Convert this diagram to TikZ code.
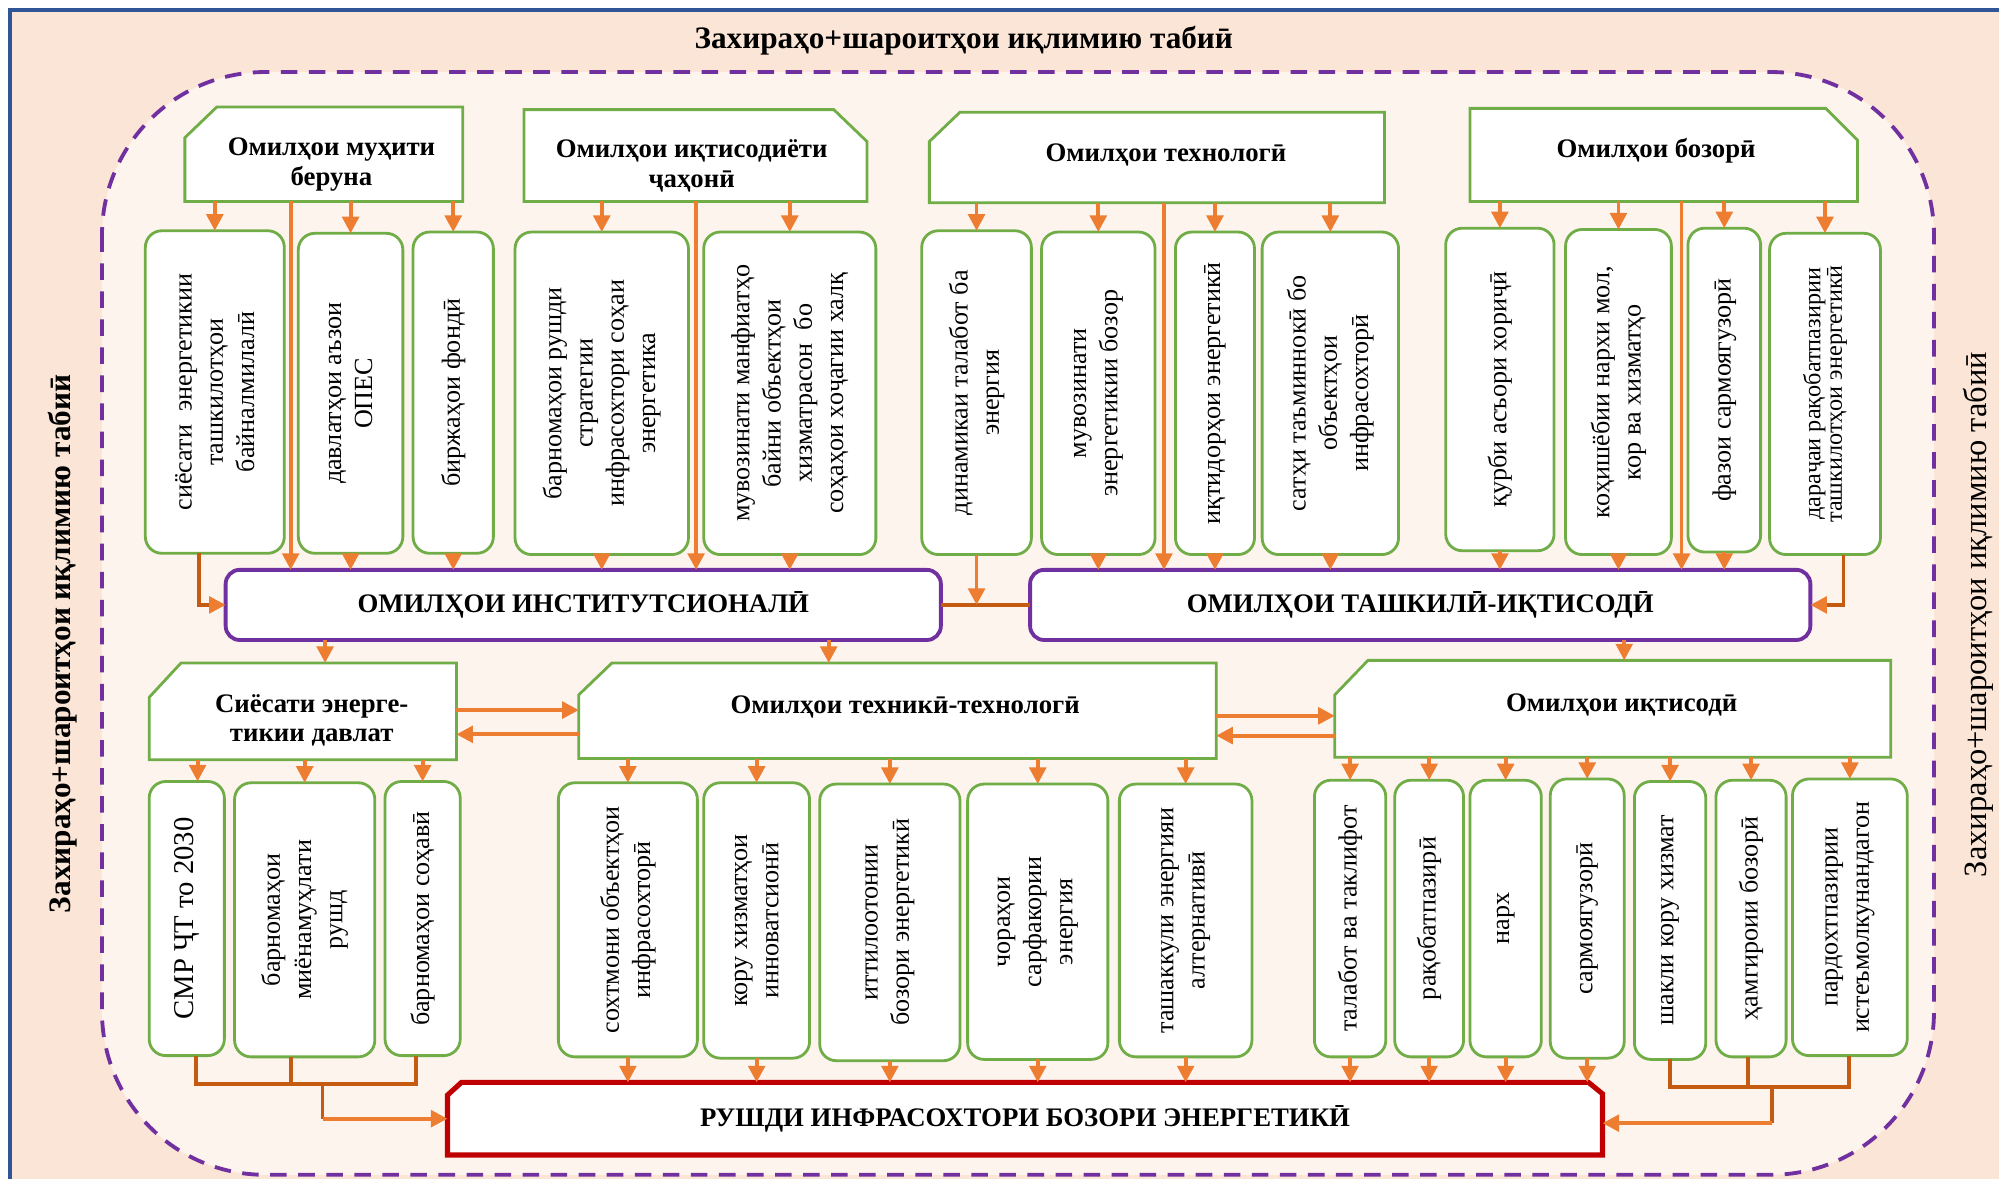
\documentclass[tikz,border=0pt]{standalone}
\usepackage{fontspec}
\setmainfont{Liberation Serif}
\usetikzlibrary{arrows.meta,fit,calc}
\definecolor{orA}{HTML}{ED7D31}
\definecolor{orD}{HTML}{C55A11}
\definecolor{grn}{HTML}{70AD47}
\definecolor{pur}{HTML}{7030A0}
\definecolor{redb}{HTML}{C00000}
\definecolor{blu}{HTML}{2F5597}
\definecolor{pch}{HTML}{FBE5D6}
\definecolor{pchl}{HTML}{FEF4EE}
\tikzset{
  frm/.style={inner sep=0pt, outer sep=0pt},
  vb/.style={frm, draw=grn, line width=2.2pt, fill=white, rounded corners=13pt},
  vt/.style={inner sep=0pt, align=center, rotate=90, font=\fontsize{20.5}{24.5}\selectfont},
  hb/.style={draw=grn, line width=2.2pt, fill=white},
  ht/.style={inner sep=0pt, align=center, font=\fontsize{21}{23}\selectfont\bfseries},
  pb/.style={frm, draw=pur, line width=3pt, fill=white, rounded corners=11pt, font=\fontsize{21}{25}\selectfont\bfseries},
  rb/.style={draw=redb, line width=4pt, fill=white},
  arr/.style={draw=orA, line width=3pt, -{Triangle[length=13pt,width=13pt,color=orA]}},
  dl/.style={draw=orD, line width=3pt},
  darr/.style={draw=orD, line width=3pt, -{Triangle[length=13pt,width=13pt,color=orA]}},
  sidet/.style={inner sep=0pt, rotate=90},
}
\newcommand{\vbx}[6]{\node[vb, fit={(#2,#3) (#4,#5)}] (#1) {};
  \node[vt] (#1t) at (#1.center) {#6};}
\begin{document}
\begin{tikzpicture}[x=1pt,y=-1pt]
\useasboundingbox (0,0) rectangle (1568,924.8);
\fill[white] (0,0) rectangle (1568,924.8);
\fill[pch] (8,8) rectangle (1568,924.8);
\draw[blu, line width=3pt] (8,924.8) -- (8,8) -- (1568,8);
\draw[pur, line width=3pt, dash pattern=on 13pt off 9pt, fill=pchl, rounded corners=128pt] (80,56.5) rectangle (1517,921.5);

% titles
\node[inner sep=0pt, font=\fontsize{24.5}{28}\selectfont\bfseries] (T) at (756,32) {Захираҳо+шароитҳои иқлимию табиӣ};
\node[sidet, font=\fontsize{24.5}{28}\selectfont\bfseries] (LT) at (49,505) {Захираҳо+шароитҳои иқлимию табиӣ};
\node[sidet, font=\fontsize{25.5}{28}\selectfont] (RT) at (1552,482) {Захираҳо+шароитҳои иқлимию табиӣ};

% headers
\node[frm, fit={(145,84) (363,158)}] (H1) {};
\draw[hb] ($(H1.north west)+(0,24)$) -- ($(H1.north west)+(25,0)$) -- (H1.north east) -- (H1.south east) -- (H1.south west) -- cycle;
\node[ht] (H1t) at ($(H1.center)+(6,8)$) {Омилҳои муҳити\\беруна};

\node[frm, fit={(411,86) (680,158)}] (H2) {};
\draw[hb] (H2.north west) -- ($(H2.north east)+(-26,0)$) -- ($(H2.north east)+(0,25)$) -- (H2.south east) -- (H2.south west) -- cycle;
\node[ht] (H2t) at ($(H2.center)+(-3,8)$) {Омилҳои иқтисодиёти\\ҷаҳонӣ};

\node[frm, fit={(729,88) (1086,159)}] (H3) {};
\draw[hb] ($(H3.north west)+(0,23)$) -- ($(H3.north west)+(24,0)$) -- (H3.north east) -- (H3.south east) -- (H3.south west) -- cycle;
\node[ht] (H3t) at ($(H3.center)+(7,-2)$) {Омилҳои технологӣ};

\node[frm, fit={(1153,85) (1457,158)}] (H4) {};
\draw[hb] (H4.north west) -- ($(H4.north east)+(-25,0)$) -- ($(H4.north east)+(0,25)$) -- (H4.south east) -- (H4.south west) -- cycle;
\node[ht] (H4t) at ($(H4.center)+(-6,-3)$) {Омилҳои бозорӣ};

% row 1 boxes
\vbx{B1}{114}{181}{223}{434}{сиёсати~ энергетикии\\ташкилотҳои\\байналмилалӣ}
\vbx{B2}{234}{183}{316}{434}{давлатҳои аъзои\\ОПЕС}
\vbx{B3}{324}{182}{387}{434}{биржаҳои фондӣ}
\vbx{B4}{404}{182}{540}{435}{барномаҳои рушди\\стратегии\\инфрасохтори соҳаи\\энергетика}
\vbx{B5}{552}{182}{687}{435}{мувозинати манфиатҳо\\байни объектҳои\\хизматрасон~ бо\\соҳаҳои хоҷагии халқ}
\vbx{B6}{723}{181}{809}{435}{динамикаи талабот ба\\энергия}
\vbx{B7}{817}{182}{906}{435}{мувозинати\\энергетикии бозор}
\vbx{B8}{922}{182}{984}{435}{иқтидорҳои энергетикӣ}
\vbx{B9}{990}{182}{1097}{435}{сатҳи таъминнокӣ бо\\объектҳои\\инфрасохторӣ}
\vbx{B10}{1134}{179}{1219}{432}{қурби асъори хориҷӣ}
\vbx{B11}{1228}{180}{1311}{435}{коҳишёбии нархи мол,\\кор ва хизматҳо}
\vbx{B12}{1324}{179}{1381}{433}{фазои сармоягузорӣ}
\node[vb, fit={(1388,183) (1475,435)}] (B13) {};
\node[vt, font=\fontsize{19}{17}\selectfont] (B13t) at (B13.center) {дараҷаи рақобатпазирии\\ташкилотҳои энергетикӣ};

% purple boxes
\node[pb, fit={(177,447) (738,502)}] (P1) {};
\node[inner sep=0pt, font=\fontsize{21}{25}\selectfont\bfseries] (P1t) at (P1.center) {ОМИЛҲОИ ИНСТИТУТСИОНАЛӢ};
\node[pb, fit={(808,447) (1420,502)}] (P2) {};
\node[inner sep=0pt, font=\fontsize{21}{25}\selectfont\bfseries] (P2t) at (P2.center) {ОМИЛҲОИ ТАШКИЛӢ-ИҚТИСОДӢ};

% row 2 headers
\node[frm, fit={(117,520) (358,596)}] (S1) {};
\draw[hb] ($(S1.north west)+(0,27)$) -- ($(S1.north west)+(25,0)$) -- (S1.north east) -- (S1.south east) -- (S1.south west) -- cycle;
\node[ht] (S1t) at ($(S1.center)+(7,7)$) {Сиёсати энерге-\\тикии давлат};

\node[frm, fit={(454,520) (954,595)}] (S2) {};
\draw[hb] ($(S2.north west)+(0,25)$) -- ($(S2.north west)+(26,0)$) -- (S2.north east) -- (S2.south east) -- (S2.south west) -- cycle;
\node[ht] (S2t) at ($(S2.center)+(6,-3)$) {Омилҳои техникӣ-технологӣ};

\node[frm, fit={(1047,518) (1483,594)}] (S3) {};
\draw[hb] ($(S3.north west)+(0,27)$) -- ($(S3.north west)+(26,0)$) -- (S3.north east) -- (S3.south east) -- (S3.south west) -- cycle;
\node[ht] (S3t) at ($(S3.center)+(7,-3)$) {Омилҳои иқтисодӣ};

% row 2 boxes
\node[vb, fit={(117,613) (176,828)}] (C1) {};
\node[vt, font=\fontsize{22.5}{26}\selectfont] (C1t) at (C1.center) {СМР ҶТ то 2030};
\vbx{C2}{184}{614}{294}{829}{барномаҳои\\миёнамуҳлати\\рушд}
\vbx{C3}{302}{613}{361}{828}{барномаҳои соҳавӣ}
\vbx{C4}{438}{614}{547}{829}{сохтмони объектҳои\\инфрасохторӣ}
\vbx{C5}{552}{614}{635}{830}{кору хизматҳои\\инноватсионӣ}
\vbx{C6}{643}{615}{753}{832}{иттилоотонии\\бозори энергетикӣ}
\vbx{C7}{759}{615}{869}{831}{чораҳои\\сарфакории\\энергия}
\vbx{C8}{878}{615}{982}{829}{ташаккули энергияи\\алтернативӣ}
\vbx{C9}{1031}{612}{1087}{829}{талабот ва таклифот}
\vbx{C10}{1094}{612}{1148}{829}{рақобатпазирӣ}
\vbx{C11}{1153}{612}{1209}{829}{нарх}
\vbx{C12}{1216}{611}{1274}{830}{сармоягузорӣ}
\vbx{C13}{1282}{613}{1338}{831}{шакли кору хизмат}
\vbx{C14}{1346}{612}{1401}{829}{ҳамгироии бозорӣ}
\vbx{C15}{1406}{611}{1496}{828}{пардохтпазирии\\истеъмолкунандагон}

% red box
\node[frm, fit={(351,849) (1257,906)}] (R) {};
\draw[rb] ($(R.north west)+(0,10)$) -- ($(R.north west)+(11,0)$) -- ($(R.north east)+(-11,0)$) -- ($(R.north east)+(0,9)$) -- (R.south east) -- (R.south west) -- cycle;
\node[inner sep=0pt, font=\fontsize{21}{25}\selectfont\bfseries] (Rt) at (R.center) {РУШДИ ИНФРАСОХТОРИ БОЗОРИ ЭНЕРГЕТИКӢ};

% helper coordinates
\coordinate (lx1) at (228,0);
\coordinate (lx2) at (546,0);
\coordinate (lx3) at (913,0);
\coordinate (lx4) at (1319,0);
\coordinate (ex1) at (156,0);
\coordinate (ex2) at (1446,0);
\coordinate (sx1) at (255,0);
\coordinate (sx2) at (650,0);
\coordinate (sx3) at (1274,0);
\coordinate (ya1) at (0,557);
\coordinate (ya2) at (0,576);
\coordinate (ya3) at (0,561.5);
\coordinate (ya4) at (0,577);
\coordinate (cx1) at (155,0);
\coordinate (bl) at (0,850);
\coordinate (bx1) at (154,0);
\coordinate (bx2) at (228,0);
\coordinate (bx3) at (326,0);
\coordinate (jx1) at (253,0);
\coordinate (br) at (0,852.5);
\coordinate (bx4) at (1310,0);
\coordinate (bx5) at (1371,0);
\coordinate (bx6) at (1450,0);
\coordinate (jx2) at (1390,0);
\coordinate (rr) at (0,881);

% header -> row 1
\foreach \h/\b in {H1/B1,H1/B2,H1/B3,H2/B4,H2/B5,H3/B6,H3/B7,H3/B8,H3/B9,H4/B10,H4/B11,H4/B12,H4/B13}
  \draw[arr] (\h.south -| \b.north) -- (\b.north);
\draw[arr] (H1.south -| lx1) -- (P1.north -| lx1);
\draw[arr] (H2.south -| lx2) -- (P1.north -| lx2);
\draw[arr] (H3.south -| lx3) -- (P2.north -| lx3);
\draw[arr] (H4.south -| lx4) -- (P2.north -| lx4);

% row 1 -> purple
\foreach \b in {B2,B3,B4,B5} \draw[arr] (\b.south) -- (P1.north -| \b.south);
\foreach \b in {B7,B8,B9,B10,B11,B12} \draw[arr] (\b.south) -- (P2.north -| \b.south);
\draw[darr] (B1.south -| ex1) |- (P1.west);
\draw[darr] (B13.south -| ex2) |- (P2.east);
\draw[dl] (P1.east) -- (P2.west);
\draw[arr] (B6.south) -- (B6.south |- P1.east);

% purple -> row 2 headers
\draw[arr] (P1.south -| sx1) -- (S1.north -| sx1);
\draw[arr] (P1.south -| sx2) -- (S2.north -| sx2);
\draw[arr] (P2.south -| sx3) -- (S3.north -| sx3);
\draw[arr] (S1.east |- ya1) -- (S2.west |- ya1);
\draw[arr] (S2.west |- ya2) -- (S1.east |- ya2);
\draw[arr] (S2.east |- ya3) -- (S3.west |- ya3);
\draw[arr] (S3.west |- ya4) -- (S2.east |- ya4);

% row 2 headers -> boxes
\draw[arr] (S1.south -| cx1) -- (C1.north -| cx1);
\foreach \c in {C2,C3} \draw[arr] (S1.south -| \c.north) -- (\c.north);
\foreach \c in {C4,C5,C6,C7,C8} \draw[arr] (S2.south -| \c.north) -- (\c.north);
\foreach \c in {C9,C10,C11,C12,C13,C14,C15} \draw[arr] (S3.south -| \c.north) -- (\c.north);

% boxes -> red box
\foreach \c in {C4,C5,C6,C7,C8,C9,C10,C11,C12} \draw[arr] (\c.south) -- (R.north -| \c.south);
\draw[dl] (C1.south -| bx1) -- (bl -| bx1) -- (bl -| bx3) -- (C3.south -| bx3);
\draw[dl] (C2.south -| bx2) -- (bl -| bx2);
\draw[dl] (bl -| jx1) -- (R.west -| jx1);
\draw[arr] (R.west -| jx1) -- (R.west);
\draw[dl] (C13.south -| bx4) -- (br -| bx4) -- (br -| bx6) -- (C15.south -| bx6);
\draw[dl] (C14.south -| bx5) -- (br -| bx5);
\draw[dl] (br -| jx2) -- (rr -| jx2);
\draw[arr] (rr -| jx2) -- (rr -| R.east);
\end{tikzpicture}
\end{document}
